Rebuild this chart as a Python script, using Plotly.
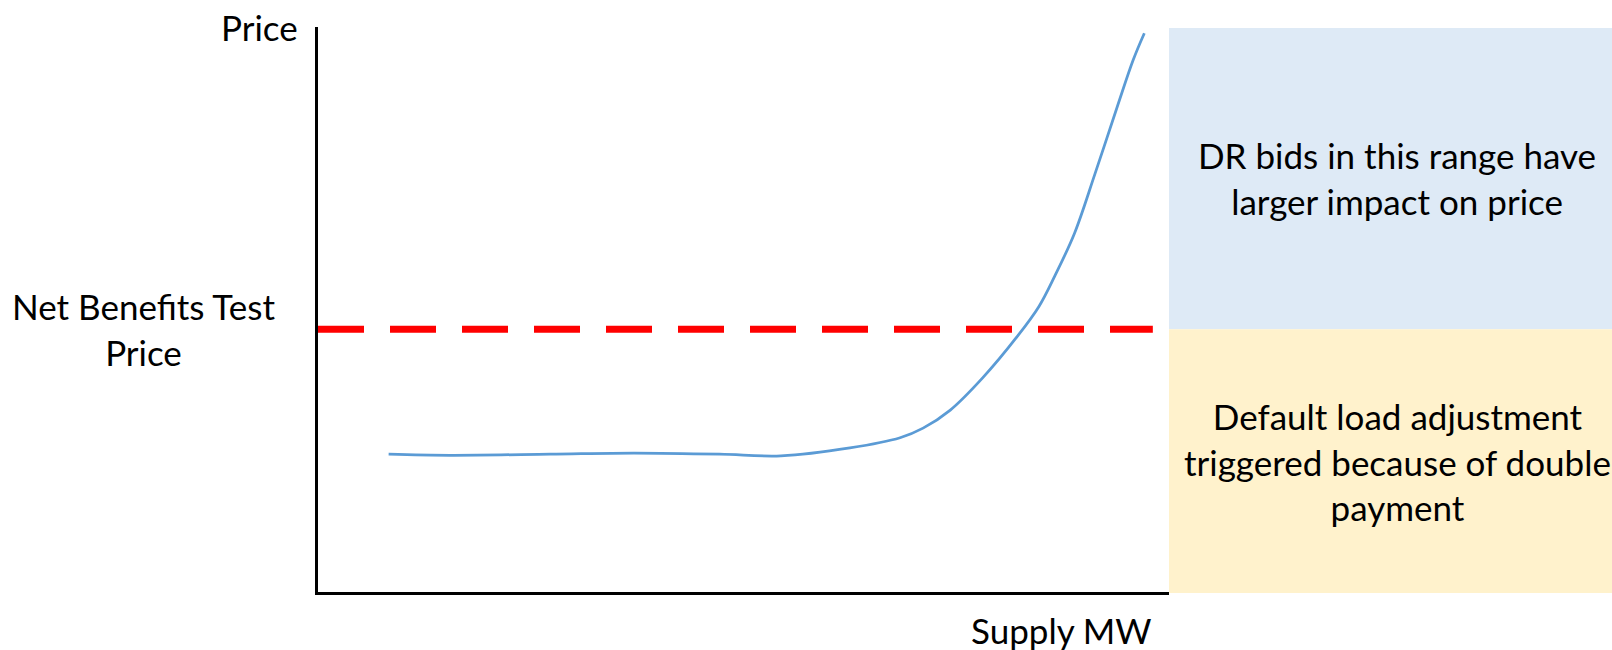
import plotly.graph_objects as go

# Supply curve (arbitrary MW / price units on a 0-100 scale)
supply_mw = [8.3, 15.5, 27.3, 37.1, 47.2, 54.4, 62.5, 68.4, 71.1, 74.3, 78.1,
             82.1, 84.7, 86.6, 88.9, 91.3, 93.9, 95.8, 97.1]
supply_price = [24.4, 24.2, 24.4, 24.6, 24.4, 24.1, 25.5, 27.3, 29.0, 32.2, 37.9,
                45.1, 50.5, 56.0, 63.5, 74.0, 85.8, 94.2, 98.9]

# Net benefits test price level
nbt_price = 46.5
nbt_x = [0, 98.1]

x_range = [0, 100]
y_range = [0, 100]

# Figure geometry (pixels)
W, H = 1612, 650
ML, MR, MT, MB = 318, 443, 27, 58
PW = W - ML - MR
PH = H - MT - MB


def px_x(px):
    return (px - ML) / PW


def px_y(py):
    return (H - MB - py) / PH


FONT = "Lato, Calibri, Carlito, sans-serif"
FS = 35

fig = go.Figure()

fig.add_trace(go.Scatter(
    x=supply_mw, y=supply_price, mode="lines",
    line=dict(color="#5B9BD5", width=2.75, shape="spline", smoothing=1.0),
    hoverinfo="skip", showlegend=False,
))

fig.add_trace(go.Scatter(
    x=nbt_x, y=[nbt_price, nbt_price], mode="lines",
    line=dict(color="#FF0000", width=7, dash="46px,26px"),
    hoverinfo="skip", showlegend=False,
))

nbt_paper = (nbt_price - y_range[0]) / (y_range[1] - y_range[0])

shapes = [
    # upper zone: above the net benefits test price
    dict(type="rect", xref="paper", yref="paper",
         x0=1, x1=px_x(W), y0=nbt_paper, y1=px_y(28),
         fillcolor="#DEEAF6", line=dict(width=0), layer="below"),
    # lower zone: below the net benefits test price
    dict(type="rect", xref="paper", yref="paper",
         x0=1, x1=px_x(W), y0=px_y(593), y1=nbt_paper,
         fillcolor="#FFF2CC", line=dict(width=0), layer="below"),
]

annotations = [
    dict(text="Price", xref="paper", yref="paper",
         x=px_x(300), y=px_y(27), xanchor="right", yanchor="middle",
         showarrow=False, font=dict(size=FS)),
    dict(text="Net Benefits Test<br>Price", xref="paper", yref="paper",
         x=px_x(143), y=px_y(329), xanchor="center", yanchor="middle",
         showarrow=False, font=dict(size=FS)),
    dict(text="Supply MW", xref="paper", yref="paper",
         x=px_x(1061), y=px_y(630), xanchor="center", yanchor="middle",
         showarrow=False, font=dict(size=FS)),
    dict(text="DR bids in this range have<br>larger impact on price",
         xref="paper", yref="paper",
         x=px_x(1397), y=px_y(178), xanchor="center", yanchor="middle",
         showarrow=False, font=dict(size=FS)),
    dict(text="Default load adjustment<br>triggered because of double<br>payment",
         xref="paper", yref="paper",
         x=px_x(1397), y=px_y(461), xanchor="center", yanchor="middle",
         showarrow=False, font=dict(size=FS)),
]

axis_common = dict(showgrid=False, zeroline=False, showticklabels=False,
                   ticks="", showline=True, linecolor="black", linewidth=2.5,
                   fixedrange=True)

fig.update_layout(
    width=W, height=H,
    margin=dict(l=ML, r=MR, t=MT, b=MB, pad=0),
    paper_bgcolor="white", plot_bgcolor="white",
    font=dict(family=FONT, color="black", size=FS),
    xaxis=dict(range=x_range, **axis_common),
    yaxis=dict(range=y_range, **axis_common),
    shapes=shapes,
    annotations=annotations,
    showlegend=False,
)

fig.write_html("out.html")
